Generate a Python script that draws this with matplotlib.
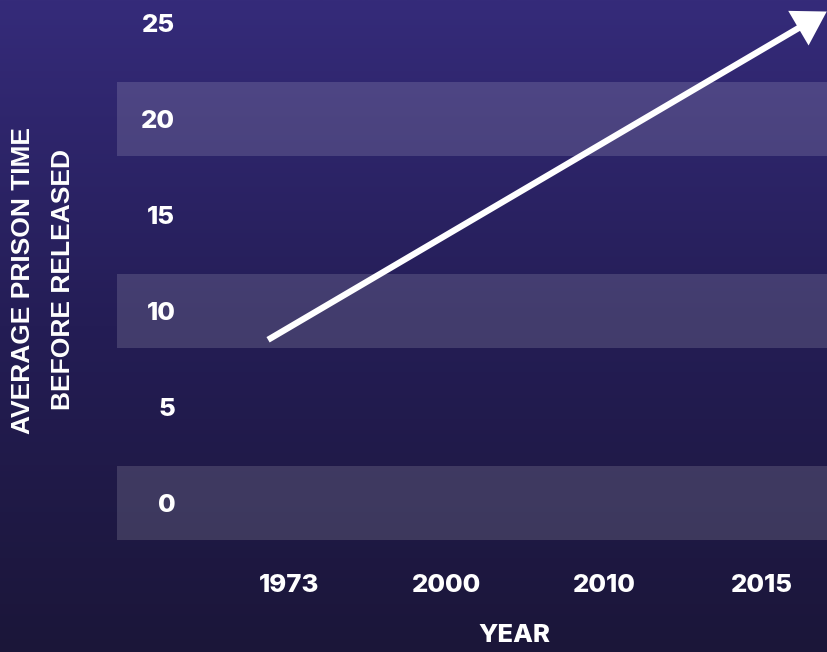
import numpy as np
import matplotlib
matplotlib.use("Agg")
import matplotlib.pyplot as plt
from matplotlib.colors import LinearSegmentedColormap

# Data
years = ["1973", "2000", "2010", "2015"]
y_ticks = [0, 5, 10, 15, 20, 25]
band_values = [0, 10, 20]
trend_start = 8.5    # average time in 1973
trend_end = 25.6     # where the rising trend leaves the chart

W, H = 828, 652
fig = plt.figure(figsize=(W / 100, H / 100), dpi=100)

# Vertical gradient background
bg = fig.add_axes([0, 0, 1, 1], zorder=0)
cmap = LinearSegmentedColormap.from_list("bg", ["#1b1639", "#241d55", "#352b7a"])
grad = np.linspace(0, 1, 256).reshape(-1, 1)
bg.imshow(grad, aspect="auto", cmap=cmap, origin="lower", extent=[0, 1, 0, 1])
bg.set_axis_off()

# Plot area
left_px, bottom_px = 117, 545
ax = fig.add_axes([left_px / W, 1 - bottom_px / H, 1 - left_px / W, bottom_px / H], zorder=1)
ax.patch.set_alpha(0)
for s in ax.spines.values():
    s.set_visible(False)

x = np.arange(len(years))
ax.set_xlim(-1.091, 3.418)
ax.set_ylim(-2.19, 26.2)

# Translucent horizontal bands
for v in band_values:
    ax.axhspan(v - 1.93, v + 1.93, color="white", alpha=0.14, lw=0)

tick_font = "Inter"
tick_weight = 800
ax.set_xticks(x)
ax.set_xticklabels(years, fontfamily=tick_font, fontweight=tick_weight, fontsize=18.5, color="white")
ax.set_yticks(y_ticks)
ax.set_yticklabels([str(v) for v in y_ticks], fontfamily=tick_font, fontweight=tick_weight,
                   fontsize=18.5, color="white", ha="right")
ax.tick_params(axis="both", length=0)
ax.tick_params(axis="y", pad=-42)
ax.tick_params(axis="x", pad=21)

# Trend arrow
ax.annotate("", xy=(x[-1] + 0.41, trend_end), xytext=(x[0] - 0.133, trend_start),
            arrowprops=dict(arrowstyle="-|>,head_length=0.9,head_width=0.55", color="white",
                            lw=4.5, shrinkA=0, shrinkB=0, mutation_scale=19,
                            capstyle="butt", joinstyle="miter"))

# Axis titles
fig.text(514 / W, 1 - 636 / H, "YEAR", ha="center", va="center", fontfamily=tick_font,
         fontweight=tick_weight, fontsize=18.5, color="white")
fig.text(23 / W, 1 - 280 / H, "AVERAGE PRISON TIME", rotation=90, ha="center", va="center",
         fontfamily="Liberation Sans", fontweight="bold", fontsize=19, color="white")
fig.text(63 / W, 1 - 280 / H, "BEFORE RELEASED", rotation=90, ha="center", va="center",
         fontfamily="Liberation Sans", fontweight="bold", fontsize=19, color="white")

fig.savefig("out.png", dpi=100)
